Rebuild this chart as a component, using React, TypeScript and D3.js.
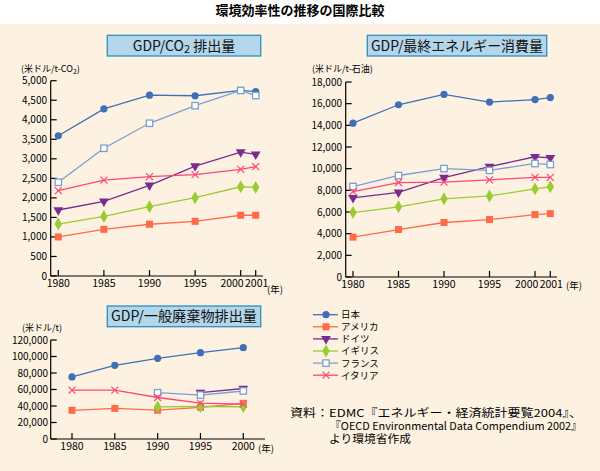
import React from "react";
import * as d3 from "d3";

const FONT = "'Noto Sans CJK JP', 'Noto Sans', sans-serif";

const countries = ["日本", "アメリカ", "ドイツ", "イギリス", "フランス", "イタリア"];
const colors = ["#3f6fb5", "#ff6a48", "#7b2b90", "#99cc33", "#7b9fd0", "#ff4575"];
const markers = ["circle", "square", "triangle", "diamond", "openSquare", "cross"];

const years12 = [1980, 1985, 1990, 1995, 2000, 2001];
const years3 = [1980, 1985, 1990, 1995, 2000];

// GDP/CO2 (US$/t-CO2)
const co2Japan = [3590, 4280, 4630, 4615, 4750, 4720];
const co2USA = [1000, 1195, 1325, 1400, 1555, 1555];
const co2Germany = [1690, 1910, 2320, 2815, 3170, 3115];
const co2UK = [1330, 1525, 1775, 2005, 2285, 2270];
const co2France = [2400, 3270, 3910, 4360, 4750, 4620];
const co2Italy = [2185, 2455, 2545, 2595, 2730, 2800];

// GDP/final energy (US$/t-oil)
const enJapan = [14200, 15900, 16850, 16150, 16380, 16560];
const enUSA = [3680, 4380, 5030, 5300, 5760, 5850];
const enGermany = [7300, 7820, 9180, 10180, 11100, 11000];
const enUK = [5950, 6480, 7220, 7480, 8130, 8320];
const enFrance = [8350, 9370, 10010, 9840, 10480, 10380];
const enItaly = [7880, 8720, 8760, 8970, 9200, 9200];

// GDP/municipal waste (US$/t)
const wJapan = [75200, 89300, 97800, 104600, 110700];
const wUSA = [34800, 37100, 34900, 38400, 43200];
const wGermany = [null, null, null, 56300, 61200];
const wUK = [null, null, 39000, 39400, 39100];
const wFrance = [null, null, 56100, 53300, 58200];
const wItaly = [59300, 59300, 50300, 43500, 42300];

const co2Series = [co2Japan, co2USA, co2Germany, co2UK, co2France, co2Italy];
const enSeries = [enJapan, enUSA, enGermany, enUK, enFrance, enItaly];
const wSeries = [wJapan, wUSA, wGermany, wUK, wFrance, wItaly];

const co2Ticks = [0, 500, 1000, 1500, 2000, 2500, 3000, 3500, 4000, 4500, 5000];
const enTicks = [0, 2000, 4000, 6000, 8000, 10000, 12000, 14000, 16000, 18000];
const wTicks = [0, 20000, 40000, 60000, 80000, 100000, 120000];

const sourceLines = [
  "資料：EDMC『エネルギー・経済統計要覧2004』、",
  "『OECD Environmental Data Compendium 2002』",
  "より環境省作成",
];

const fmt = d3.format(",");

function Marker({ type, x, y, color }: { type: string; x: number; y: number; color: string }) {
  if (type === "circle") return <circle cx={x} cy={y} r={3.6} fill={color} />;
  if (type === "square") return <rect x={x - 3.5} y={y - 3.5} width={7} height={7} fill={color} />;
  if (type === "openSquare")
    return <rect x={x - 3.2} y={y - 3.2} width={6.4} height={6.4} fill="#fff" stroke={color} strokeWidth={1.3} />;
  if (type === "triangle") {
    const p = d3.symbol().type(d3.symbolTriangle).size(42)();
    return <path d={p || ""} transform={`translate(${x},${y}) rotate(180)`} fill={color} />;
  }
  if (type === "diamond") {
    const p = d3.symbol().type(d3.symbolDiamond).size(48)();
    return <path d={p || ""} transform={`translate(${x},${y})`} fill={color} />;
  }
  return (
    <g stroke={color} strokeWidth={1.2}>
      <line x1={x - 3.5} y1={y - 3.5} x2={x + 3.5} y2={y + 3.5} />
      <line x1={x - 3.5} y1={y + 3.5} x2={x + 3.5} y2={y - 3.5} />
    </g>
  );
}

type PanelProps = {
  years: number[];
  series: (number | null)[][];
  x: d3.ScaleLinear<number, number>;
  y: d3.ScaleLinear<number, number>;
  yTicks: number[];
  axisLeft: number;
  axisRight: number;
  axisBottom: number;
  labelRight: number;
  nenX: number;
  nenY: number;
  squeezeLast: boolean;
};

function Panel({ years, series, x, y, yTicks, axisLeft, axisRight, axisBottom, labelRight, nenX, nenY, squeezeLast }: PanelProps) {
  const top = y(yTicks[yTicks.length - 1]);
  const last = years[years.length - 1];
  return (
    <g>
      <line x1={axisLeft} y1={axisBottom} x2={axisRight} y2={axisBottom} stroke="#000" strokeWidth={1.2} />
      <line x1={axisLeft} y1={axisBottom} x2={axisLeft} y2={top} stroke="#000" strokeWidth={1.2} />
      {yTicks.map((t) => (
        <g key={t}>
          <line x1={axisLeft} x2={axisLeft + 6} y1={y(t)} y2={y(t)} stroke="#000" strokeWidth={1.2} />
          <text x={labelRight} y={y(t)} dy="0.35em" textAnchor="end" fontSize={10} fontFamily={FONT}>
            {fmt(t)}
          </text>
        </g>
      ))}
      {years.map((yr, j) => {
        let tx = x(yr);
        let anchor = "middle";
        if (squeezeLast && j === years.length - 2) {
          tx = x(last) - 12;
          anchor = "end";
        } else if (squeezeLast && j === years.length - 1) {
          tx = x(last) + 1;
        }
        return (
          <g key={yr}>
            <line x1={x(yr)} x2={x(yr)} y1={axisBottom} y2={axisBottom - 6} stroke="#000" strokeWidth={1.2} />
            <text x={tx} y={axisBottom + 11} textAnchor={anchor} fontSize={10.5} fontFamily={FONT}>
              {yr}
            </text>
          </g>
        );
      })}
      <text x={nenX} y={nenY} fontSize={9.5} fontFamily={FONT}>(年)</text>
      {series.map((vals, i) => {
        const pts = years.map((yr, j) => ({ yr, v: vals[j] }));
        const line = d3
          .line<{ yr: number; v: number | null }>()
          .defined((d) => d.v != null)
          .x((d) => x(d.yr))
          .y((d) => y(d.v as number));
        return (
          <g key={i}>
            <path d={line(pts) || ""} fill="none" stroke={colors[i]} strokeWidth={1.3} />
            {pts
              .filter((d) => d.v != null)
              .map((d) => (
                <Marker key={d.yr} type={markers[i]} x={x(d.yr)} y={y(d.v as number)} color={colors[i]} />
              ))}
          </g>
        );
      })}
    </g>
  );
}

function TitleBox({ x, y, w, h, tl, children }: { x: number; y: number; w: number; h: number; tl?: number; children: React.ReactNode }) {
  return (
    <g>
      <rect x={x} y={y} width={w} height={h} fill="#b3d6ea" stroke="#2a8fc2" strokeWidth={1.3} />
      <text x={x + w / 2} y={y + h / 2} dy="0.36em" textAnchor="middle" fontSize={14} fontFamily={FONT} fill="#111"
        textLength={tl} lengthAdjust={tl ? "spacingAndGlyphs" : undefined}>
        {children}
      </text>
    </g>
  );
}

export default function App() {
  const x1 = d3.scaleLinear().domain([1980, 2000, 2001]).range([58.3, 240.7, 255.7]);
  const y1 = d3.scaleLinear().domain([0, 5000]).range([276, 80.7]);
  const x2 = d3.scaleLinear().domain([1980, 2000, 2001]).range([353, 535, 550.3]);
  const y2 = d3.scaleLinear().domain([0, 18000]).range([277, 82]);
  const x3 = d3.scaleLinear().domain([1980, 2000]).range([72, 243.3]);
  const y3 = d3.scaleLinear().domain([0, 120000]).range([439, 340]);

  return (
    <svg width={600} height={471} style={{ position: "absolute", left: 0, top: 0 }} fontFamily={FONT}>
      <rect x={0} y={0} width={600} height={471} fill="#fff" />
      <rect x={0} y={24} width={600} height={447} fill="#fdf2e2" />
      <text x={300} y={14.5} textAnchor="middle" fontSize={13} fontWeight="bold" fontFamily={FONT}>
        環境効率性の推移の国際比較
      </text>

      <TitleBox x={107.3} y={35.3} w={153.4} h={20.7}>
        <tspan>GDP/CO</tspan>
        <tspan fontSize={11} dy={2}>2</tspan>
        <tspan dy={-2}> 排出量</tspan>
      </TitleBox>
      <TitleBox x={367.3} y={35.3} w={179.4} h={20.7} tl={172}>
        GDP/最終エネルギー消費量
      </TitleBox>
      <TitleBox x={107.3} y={306} w={153.4} h={20.7} tl={146}>
        GDP/一般廃棄物排出量
      </TitleBox>

      <text x={21} y={72} fontSize={9} fontFamily={FONT}>
        (米ドル/t-CO<tspan fontSize={7} dy={1.5}>2</tspan>
        <tspan dy={-1.5}>)</tspan>
      </text>
      <text x={312} y={72} fontSize={9} fontFamily={FONT}>(米ドル/t-石油)</text>
      <text x={22} y={330.5} fontSize={9} fontFamily={FONT}>(米ドル/t)</text>

      <Panel years={years12} series={co2Series} x={x1} y={y1} yTicks={co2Ticks} axisLeft={50.7} axisRight={263}
        axisBottom={276} labelRight={47} nenX={267} nenY={293} squeezeLast={true} />
      <Panel years={years12} series={enSeries} x={x2} y={y2} yTicks={enTicks} axisLeft={345.7} axisRight={557}
        axisBottom={277} labelRight={342} nenX={566} nenY={289} squeezeLast={true} />
      <Panel years={years3} series={wSeries} x={x3} y={y3} yTicks={wTicks} axisLeft={50.7} axisRight={265}
        axisBottom={439} labelRight={48} nenX={258} nenY={452} squeezeLast={false} />

      {countries.map((c, i) => {
        const ly = 314.7 + i * 12.1;
        return (
          <g key={c}>
            <line x1={313} x2={338} y1={ly} y2={ly} stroke={colors[i]} strokeWidth={1.3} />
            <Marker type={markers[i]} x={326} y={ly} color={colors[i]} />
            <text x={341} y={ly} dy="0.36em" fontSize={9.5} fontFamily={FONT}>{c}</text>
          </g>
        );
      })}

      <text x={290} y={417} fontSize={11} fontFamily={FONT} textLength={292} lengthAdjust="spacingAndGlyphs">{sourceLines[0]}</text>
      <text x={330} y={430} fontSize={11} fontFamily={FONT} textLength={252} lengthAdjust="spacingAndGlyphs">{sourceLines[1]}</text>
      <text x={329} y={443} fontSize={11} fontFamily={FONT} textLength={82} lengthAdjust="spacingAndGlyphs">{sourceLines[2]}</text>
    </svg>
  );
}
